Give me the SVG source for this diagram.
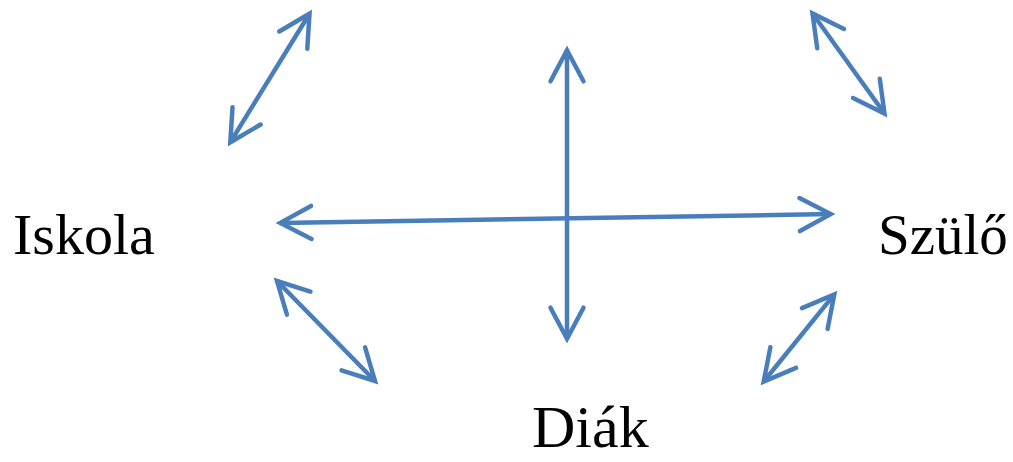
<svg xmlns="http://www.w3.org/2000/svg" width="1013" height="462" viewBox="0 0 1013 462">
<style>
.lbl{font-family:"Liberation Serif","Times New Roman",serif;font-size:57px;fill:#000}
.conn{stroke:#4a7ebb;stroke-width:4.5;fill:none;marker-start:url(#ah);marker-end:url(#ah)}
</style>
<defs>
<marker id="ah" markerUnits="userSpaceOnUse" viewBox="-40 -25 50 50" refX="0" refY="0" markerWidth="50" markerHeight="50" orient="auto-start-reverse" overflow="visible">
<path d="M-31,-16.5 L0,0 L-31,16.5" fill="none" stroke="#4a7ebb" stroke-width="4.5" stroke-linecap="round" stroke-linejoin="miter"/>
</marker>
</defs>
<rect width="1013" height="462" fill="#fff"/>
<g id="connectors">
<line class="conn" x1="309.5" y1="13.7" x2="230.3" y2="142.3"/>
<line class="conn" x1="812.5" y1="13.5" x2="884.5" y2="113.5"/>
<line class="conn" x1="280.3" y1="222.9" x2="830.7" y2="214.1"/>
<line class="conn" x1="567" y1="50.3" x2="567" y2="338.7"/>
<line class="conn" x1="277" y1="281" x2="375" y2="381"/>
<line class="conn" x1="834.3" y1="294.4" x2="763.7" y2="381.6"/>
</g>
<g id="iskola"><text class="lbl" x="13" y="254" style="font-size:58px">Iskola</text></g>
<g id="szulo"><text class="lbl" x="878" y="254">Szülő</text></g>
<g id="diak"><text class="lbl" x="532" y="447" style="font-size:60px">Diák</text></g>
</svg>
